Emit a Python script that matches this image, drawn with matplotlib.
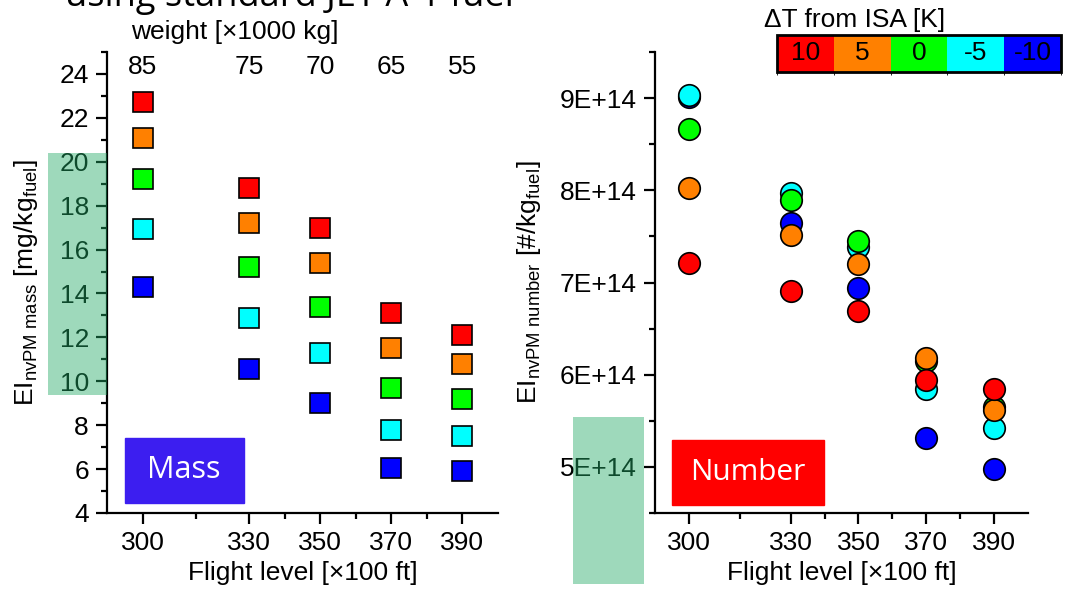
import numpy as np
import matplotlib
matplotlib.use("Agg")
import matplotlib.pyplot as plt
from matplotlib.patches import Rectangle
from matplotlib.colors import ListedColormap, BoundaryNorm
from matplotlib.ticker import MultipleLocator, FixedLocator, FuncFormatter

plt.rcParams["font.family"] = ["Liberation Sans", "DejaVu Sans"]
plt.rcParams["mathtext.fontset"] = "custom"
plt.rcParams["mathtext.rm"] = "Liberation Sans"
plt.rcParams["mathtext.it"] = "Liberation Sans:italic"

# flight levels and aircraft weight at each level
flight_levels = [300, 330, 350, 370, 390]
weights = [85, 75, 70, 65, 55]

# temperature offsets from ISA and their colours
delta_t = [10, 5, 0, -5, -10]
dt_colors = ["#FF0000", "#FF8000", "#00FF00", "#00FFFF", "#0000FF"]

# nvPM mass emission index [mg/kg fuel], one row per delta T
ei_mass = {
    10: [22.7, 18.8, 17.0, 13.1, 12.1],
    5: [21.1, 17.2, 15.4, 11.5, 10.8],
    0: [19.2, 15.2, 13.4, 9.7, 9.2],
    -5: [16.95, 12.9, 11.3, 7.8, 7.5],
    -10: [14.3, 10.55, 9.0, 6.05, 5.9],
}

# nvPM number emission index [#/kg fuel]
ei_number = {
    10: [7.21e14, 6.91e14, 6.69e14, 5.94e14, 5.85e14],
    5: [8.02e14, 7.51e14, 7.20e14, 6.18e14, 5.62e14],
    0: [8.67e14, 7.90e14, 7.45e14, 6.15e14, 5.65e14],
    -5: [9.03e14, 7.97e14, 7.38e14, 5.85e14, 5.42e14],
    -10: [9.01e14, 7.64e14, 6.94e14, 5.31e14, 4.98e14],
}

W, H = 1085, 605
fig = plt.figure(figsize=(W / 100, H / 100), dpi=100)

def px(x0, y0, x1, y1):
    # pixel box -> figure fraction [left, bottom, width, height]
    return [x0 / W, 1 - y1 / H, (x1 - x0) / W, (y1 - y0) / H]

ax1 = fig.add_axes(px(107, 52, 498, 513))
ax2 = fig.add_axes(px(655, 52, 1028, 513))

FS = 19

def style(ax):
    for s in ["top", "right"]:
        ax.spines[s].set_visible(False)
    for s in ["left", "bottom"]:
        ax.spines[s].set_linewidth(1.6)
    ax.set_xlim(290, 400)
    ax.xaxis.set_major_locator(FixedLocator(flight_levels))
    ax.xaxis.set_minor_locator(FixedLocator([315, 340, 360, 380]))
    ax.tick_params(which="major", direction="out", length=8, width=1.6,
                   labelsize=FS, pad=5)
    ax.tick_params(which="minor", direction="out", length=4, width=1.6)
    ax.set_xlabel("Flight level [\u00d7100 ft]", fontsize=FS, labelpad=4)

style(ax1)
style(ax2)

# mass panel
for dt, c in zip(delta_t, dt_colors):
    ax1.plot(flight_levels, ei_mass[dt], "s", ms=14, mfc=c, mec="black",
             mew=1.2, clip_on=False)
ax1.set_ylim(4, 25)
ax1.yaxis.set_major_locator(MultipleLocator(2))
ax1.yaxis.set_minor_locator(MultipleLocator(1))
ax1.set_ylabel(r"EI$_{\mathrm{nvPM\ mass}}$ [mg/kg$_{\mathrm{fuel}}$]", fontsize=FS)
ax1.yaxis.set_label_coords(-0.172, 0.5)

# weight labels above the mass panel
for fl, w in zip(flight_levels, weights):
    ax1.text(fl, 0.967, str(w), transform=ax1.get_xaxis_transform(),
             ha="center", va="center", fontsize=FS)
ax1.text(326, 1.043, "weight [\u00d71000 kg]", transform=ax1.get_xaxis_transform(),
         ha="center", va="center", fontsize=FS)

# number panel, coldest drawn first
for dt, c in reversed(list(zip(delta_t, dt_colors))):
    ax2.plot(flight_levels, ei_number[dt], "o", ms=15.5, mfc=c, mec="black",
             mew=1.2, clip_on=False)
ax2.set_ylim(4.5e14, 9.5e14)
ax2.yaxis.set_major_locator(MultipleLocator(1e14))
ax2.yaxis.set_minor_locator(MultipleLocator(0.5e14))
ax2.yaxis.set_major_formatter(FuncFormatter(lambda v, p: f"{v / 1e14:.0f}E+14"))
ax2.set_ylabel(r"EI$_{\mathrm{nvPM\ number}}$ [#/kg$_{\mathrm{fuel}}$]", fontsize=FS)
ax2.yaxis.set_label_coords(-0.30, 0.5)

# labelled boxes
fig.patches.append(Rectangle((125 / W, 1 - 503 / H), 119 / W, 65 / H,
                             transform=fig.transFigure, color="#3C1EF0", zorder=5))
fig.text(184 / W, 1 - 470 / H, "Mass", color="white", fontsize=22,
         family="Open Sans", ha="center", va="center", zorder=6)
fig.patches.append(Rectangle((672 / W, 1 - 505 / H), 152 / W, 65 / H,
                             transform=fig.transFigure, color="#FF0000", zorder=5))
fig.text(748 / W, 1 - 472 / H, "Number", color="white", fontsize=21.5,
         family="Open Sans", ha="center", va="center", zorder=6)

# delta T colour key
cax = fig.add_axes(px(777, 35, 1061, 72))
cmap = ListedColormap(dt_colors)
norm = BoundaryNorm(np.arange(len(delta_t) + 1) - 0.5, cmap.N)
cb = fig.colorbar(plt.cm.ScalarMappable(norm=norm, cmap=cmap), cax=cax,
                  orientation="horizontal")
cb.set_ticks([])
cb.outline.set_linewidth(2)
for i, dt in enumerate(delta_t):
    cax.text(i, 0.5, str(dt), ha="center", va="center", fontsize=FS,
             transform=cax.get_xaxis_transform())
fig.text(764 / W, 1 - 20 / H, "\u0394T from ISA [K]", fontsize=FS,
         ha="left", va="center")

# heading, partly above the top edge
fig.text(65 / W, 1 - 6 / H, "using standard JET A-1 fuel", fontsize=26,
         family="Open Sans", ha="left", va="baseline")

# translucent highlight bands
for box in [(48, 153, 107, 395), (573, 417, 644, 584)]:
    x0, y0, x1, y1 = box
    fig.patches.append(Rectangle((x0 / W, 1 - y1 / H), (x1 - x0) / W, (y1 - y0) / H,
                                 transform=fig.transFigure, facecolor="#22AA66",
                                 alpha=0.44, edgecolor="none", zorder=10))

fig.savefig("out.png", dpi=100)
